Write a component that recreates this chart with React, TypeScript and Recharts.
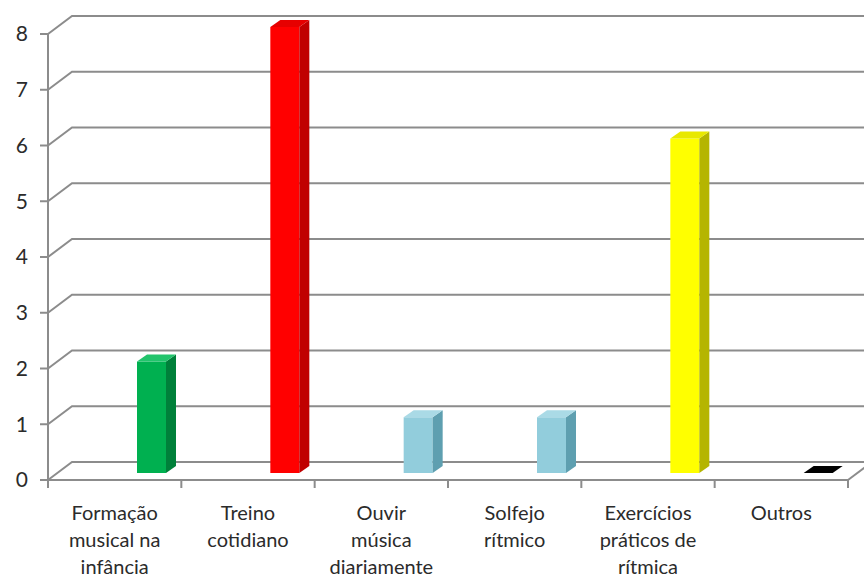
import { BarChart, Bar, XAxis, YAxis, CartesianGrid } from 'recharts';

// respostas por categoria
const categories = [
  'Formação\nmusical na\ninfância',
  'Treino\ncotidiano',
  'Ouvir\nmúsica\ndiariamente',
  'Solfejo\nrítmico',
  'Exercícios\npráticos de\nrítmica',
  'Outros'
];
const respostas = [2, 8, 1, 1, 6, 0];
const yTicks = [0, 1, 2, 3, 4, 5, 6, 7, 8];

const frontColors = ['#00B050', '#FF0000', '#92CDDC', '#92CDDC', '#FFFF00', '#000000'];
const sideColors = ['#00803A', '#C00000', '#5E9FB0', '#5E9FB0', '#B5B500', '#000000'];
const topColors = ['#22C46C', '#E60000', '#AADAE6', '#AADAE6', '#E8E800', '#000000'];

const data = categories.map((name, i) => ({ name, value: respostas[i] }));

const W = 864;
const H = 574;
const LEFT = 48;
const RIGHT = 848;
const TOP = 34;
const BOTTOM = 480;
const DEPTH_X = 24;
const DEPTH_Y = 18;
const BAR_DX = 37;
const BAR_DY = 7;
const SIDE_X = 10;
const SIDE_Y = 7;
const GRID = '#8C8C8C';
const FONT = 'Lato, "Open Sans", sans-serif';
const BAND = (RIGHT - LEFT) / categories.length;

function Bar3D(props: any) {
  const { x, y, width, height, index } = props;
  const fx = x + BAR_DX;
  const top = y - BAR_DY;
  const bottom = y + height - BAR_DY;
  return (
    <g>
      {height > 0 && <rect x={fx} y={top} width={width} height={height} fill={frontColors[index]} />}
      {height > 0 && (
        <polygon
          points={`${fx + width},${top} ${fx + width + SIDE_X},${top - SIDE_Y} ${fx + width + SIDE_X},${bottom - SIDE_Y} ${fx + width},${bottom}`}
          fill={sideColors[index]}
        />
      )}
      <polygon
        points={`${fx},${top} ${fx + width},${top} ${fx + width + SIDE_X},${top - SIDE_Y} ${fx + SIDE_X},${top - SIDE_Y}`}
        fill={topColors[index]}
      />
    </g>
  );
}

function gridLine(p: any) {
  const { x1, y1, x2 } = p;
  const isFloor = Math.abs(y1 - BOTTOM) < 1;
  return (
    <g key={`grid-${y1}`}>
      <path
        d={`M${x1},${y1} L${x1 + DEPTH_X},${y1 - DEPTH_Y} L${W},${y1 - DEPTH_Y}`}
        stroke={GRID}
        strokeWidth={2}
        fill="none"
      />
      {isFloor && (
        <line x1={x2} y1={y1} x2={x2 + DEPTH_X} y2={y1 - DEPTH_Y} stroke={GRID} strokeWidth={2} />
      )}
    </g>
  );
}

function CategoryTick(props: any) {
  const { x, y, payload, index } = props;
  const lines = String(payload.value).split('\n');
  const axisY = y - 8;
  return (
    <g>
      <line x1={x - BAND / 2} y1={axisY} x2={x - BAND / 2} y2={axisY + 8} stroke={GRID} strokeWidth={2} />
      {index === categories.length - 1 && (
        <line x1={x + BAND / 2} y1={axisY} x2={x + BAND / 2} y2={axisY + 8} stroke={GRID} strokeWidth={2} />
      )}
      <text x={x} y={y} textAnchor="middle" fill="#2b2b2b" fontSize={20} fontFamily={FONT}>
        {lines.map((l, i) => (
          <tspan key={i} x={x} y={y + 32 + i * 27}>
            {l}
          </tspan>
        ))}
      </text>
    </g>
  );
}

export default function App() {
  return (
    <div style={{ position: 'absolute', left: 0, top: 0, width: W, height: H, background: '#fff' }}>
      <BarChart
        width={W}
        height={H}
        data={data}
        margin={{ top: TOP, right: W - RIGHT, bottom: 14, left: 0 }}
      >
        <CartesianGrid horizontal={gridLine} vertical={false} />
        <XAxis
          dataKey="name"
          interval={0}
          height={80}
          tickSize={8}
          tickMargin={0}
          tickLine={false}
          axisLine={{ stroke: GRID, strokeWidth: 2 }}
          tick={<CategoryTick />}
        />
        <YAxis
          domain={[0, 8]}
          ticks={yTicks}
          width={LEFT}
          tickSize={8}
          tickMargin={12}
          axisLine={{ stroke: GRID, strokeWidth: 2 }}
          tickLine={{ stroke: GRID, strokeWidth: 2 }}
          tick={{ fill: '#2b2b2b', fontSize: 21, fontFamily: FONT }}
        />
        <Bar dataKey="value" barSize={29} shape={Bar3D} isAnimationActive={false} />
      </BarChart>
    </div>
  );
}
